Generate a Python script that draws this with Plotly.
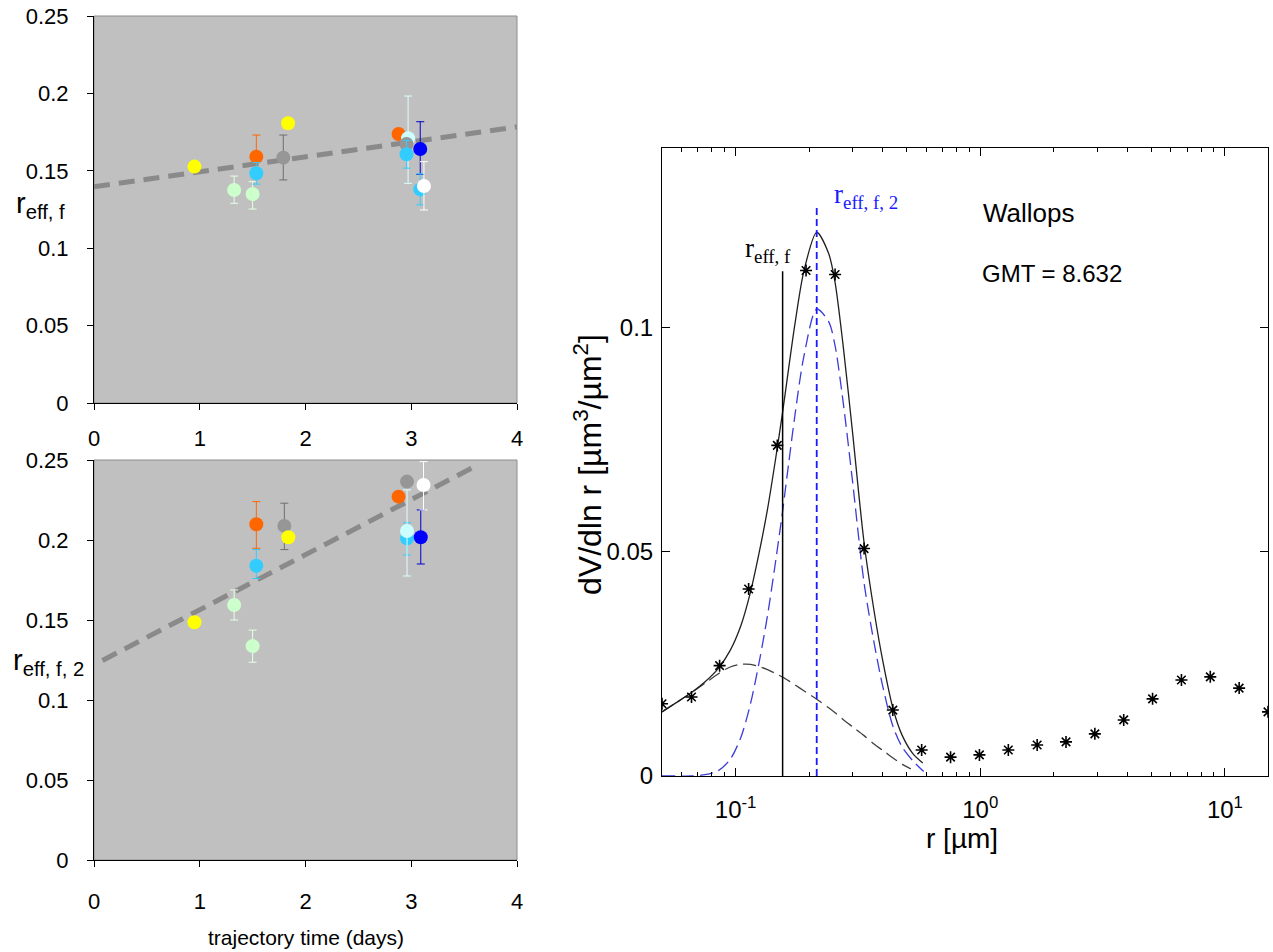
import plotly.graph_objects as go

W, H = 1273, 952

# ---------------- left panels: effective radius vs trajectory time ----------------
colors_top = ["#ffff00", "#ccffcc", "#ccffcc", "#ff6600", "#33ccff", "#969696", "#ffff00",
              "#ff6600", "#ccffff", "#969696", "#33ccff", "#0000ff", "#33ccff", "#ffffff"]
time_top = [0.95, 1.325, 1.50, 1.535, 1.535, 1.79, 1.835, 2.88, 2.97, 2.955, 2.955, 3.085, 3.085, 3.12]
reff_top = [0.1527, 0.1376, 0.1350, 0.1591, 0.1484, 0.1585, 0.1807, 0.1738, 0.1710, 0.1673,
            0.1607, 0.1641, 0.1380, 0.1402]
errp_top = [0, 0.0090, 0.0080, 0.0140, 0.0070, 0.0146, 0, 0, 0.0273, 0, 0.0090, 0.0176, 0.0100, 0.0157]
errm_top = [0, 0.0086, 0.0097, 0.0140, 0.0070, 0.0144, 0, 0, 0.0291, 0, 0.0090, 0.0164, 0.0100, 0.0155]
trend_top_t = [0.0, 4.0]
trend_top_r = [0.1397, 0.1784]

colors_bot = ["#ffff00", "#ccffcc", "#ccffcc", "#ff6600", "#33ccff", "#969696", "#ffff00",
              "#ff6600", "#969696", "#33ccff", "#ccffff", "#0000ff", "#ffffff"]
time_bot = [0.95, 1.325, 1.50, 1.535, 1.535, 1.80, 1.838, 2.88, 2.96, 2.96, 2.96, 3.09, 3.116]
reff_bot = [0.1486, 0.1594, 0.1337, 0.2098, 0.1839, 0.2088, 0.2017, 0.2271, 0.2365, 0.2010,
            0.2056, 0.2017, 0.2344]
errp_bot = [0, 0.0094, 0.0100, 0.0142, 0.0101, 0.0142, 0, 0, 0, 0.0098, 0.0257, 0.0171, 0.0146]
errm_bot = [0, 0.0094, 0.0101, 0.0150, 0.0080, 0.0148, 0, 0, 0, 0.0104, 0.0281, 0.0167, 0.0156]
trend_bot_t = [0.08, 3.60]
trend_bot_r = [0.1247, 0.2459]

err_colors = {"#ffff00": "#ffff00", "#ccffcc": "#e6ffe6", "#ff6600": "#ff6600", "#33ccff": "#33ccff",
              "#969696": "#6e6e6e", "#ccffff": "#ddffff", "#0000ff": "#0000cc", "#ffffff": "#ffffff"}

# ---------------- right panel: volume size distribution ----------------
r_bins = [0.050, 0.066, 0.086, 0.113, 0.148, 0.194, 0.255, 0.335, 0.439, 0.576, 0.756,
          0.992, 1.302, 1.708, 2.241, 2.940, 3.857, 5.061, 6.641, 8.713, 11.432, 15.000]
dv_obs = [0.0161, 0.0176, 0.0246, 0.0417, 0.0737, 0.1127, 0.1118, 0.0507, 0.0147, 0.0058, 0.0042,
          0.0047, 0.0058, 0.0069, 0.0076, 0.0094, 0.0125, 0.0172, 0.0214, 0.0221, 0.0196, 0.0143]

r_total = [0.050, 0.057, 0.066, 0.075, 0.085, 0.095, 0.105, 0.115, 0.125, 0.135, 0.145, 0.155,
           0.165, 0.175, 0.190, 0.2145, 0.240, 0.255, 0.275, 0.300, 0.335, 0.370, 0.400, 0.440,
           0.480, 0.530, 0.582]
dv_total = [0.0143, 0.0163, 0.0186, 0.0210, 0.0240, 0.0280, 0.0335, 0.0410, 0.0500, 0.0595, 0.0700,
            0.0805, 0.0912, 0.1010, 0.1125, 0.1212, 0.1165, 0.1100, 0.0960, 0.0770, 0.0520, 0.0360,
            0.0255, 0.0150, 0.0090, 0.0050, 0.0029]

r_mode1 = [0.050, 0.057, 0.066, 0.075, 0.085, 0.095, 0.105, 0.115, 0.125, 0.135, 0.145, 0.155,
           0.165, 0.175, 0.190, 0.2145, 0.240, 0.255, 0.275, 0.300, 0.335, 0.370, 0.400, 0.440,
           0.480, 0.520]
dv_mode1 = [0.0143, 0.0163, 0.0186, 0.0207, 0.0228, 0.0243, 0.0249, 0.0249, 0.0244, 0.0237, 0.0229,
            0.0221, 0.0212, 0.0203, 0.0190, 0.0171, 0.0152, 0.0141, 0.0126, 0.0110, 0.0090, 0.0070,
            0.0057, 0.0040, 0.0026, 0.0016]

r_mode2 = [0.050, 0.057, 0.066, 0.075, 0.085, 0.095, 0.105, 0.115, 0.125, 0.135, 0.145, 0.155,
           0.165, 0.175, 0.190, 0.2145, 0.240, 0.255, 0.275, 0.300, 0.335, 0.370, 0.400, 0.440,
           0.480, 0.530, 0.587]
dv_mode2 = [0.0, 0.0, 0.0, 0.0003, 0.0012, 0.0037, 0.0086, 0.0161, 0.0256, 0.0358, 0.0471, 0.0584,
            0.0700, 0.0807, 0.0935, 0.1041, 0.1013, 0.0959, 0.0834, 0.0660, 0.0430, 0.0290, 0.0198,
            0.0110, 0.0064, 0.0034, 0.0010]

r_eff_f = 0.1556
r_eff_f_top = 0.1125
r_eff_f2 = 0.2145
r_eff_f2_top = 0.1275

minor_ticks = [0.06, 0.07, 0.08, 0.09, 0.2, 0.3, 0.4, 0.5, 0.6, 0.7, 0.8, 0.9,
               2, 3, 4, 5, 6, 7, 8, 9]

fig = go.Figure()

def add_points(times, vals, ep, em, cols, xa, ya):
    for t, v, p, m, c in zip(times, vals, ep, em, cols):
        fig.add_trace(go.Scatter(
            x=[t], y=[v], mode="markers", xaxis=xa, yaxis=ya, showlegend=False,
            marker=dict(color=c, size=14, line=dict(width=0)),
            error_y=dict(type="data", symmetric=False, array=[p], arrayminus=[m],
                         color=err_colors[c], thickness=1, width=4, visible=(p > 0))))

trend_dash = "16px,9px"
fig.add_trace(go.Scatter(x=trend_top_t, y=trend_top_r, mode="lines", xaxis="x", yaxis="y",
                         line=dict(color="#8a8a8a", width=5, dash=trend_dash), showlegend=False))
add_points(time_top, reff_top, errp_top, errm_top, colors_top, "x", "y")

fig.add_trace(go.Scatter(x=trend_bot_t, y=trend_bot_r, mode="lines", xaxis="x2", yaxis="y2",
                         line=dict(color="#8a8a8a", width=5, dash=trend_dash), showlegend=False))
add_points(time_bot, reff_bot, errp_bot, errm_bot, colors_bot, "x2", "y2")

# right panel traces
fig.add_trace(go.Scatter(x=r_mode2, y=dv_mode2, mode="lines", xaxis="x3", yaxis="y3",
                         line=dict(color="#3c3cd8", width=1.3, dash="13px,6px", shape="spline",
                                   smoothing=0.8),
                         showlegend=False))
fig.add_trace(go.Scatter(x=r_mode1, y=dv_mode1, mode="lines", xaxis="x3", yaxis="y3",
                         line=dict(color="#404040", width=1.3, dash="13px,6px", shape="spline",
                                   smoothing=0.8),
                         showlegend=False))
fig.add_trace(go.Scatter(x=r_total, y=dv_total, mode="lines", xaxis="x3", yaxis="y3",
                         line=dict(color="#202020", width=1.3, shape="spline", smoothing=0.8),
                         showlegend=False))
fig.add_trace(go.Scatter(x=[r_eff_f, r_eff_f], y=[0, r_eff_f_top], mode="lines", xaxis="x3", yaxis="y3",
                         line=dict(color="black", width=1.5), showlegend=False))
fig.add_trace(go.Scatter(x=[r_eff_f2, r_eff_f2], y=[0, r_eff_f2_top], mode="lines", xaxis="x3", yaxis="y3",
                         line=dict(color="#1a1aff", width=1.8, dash="7px,4px"), showlegend=False))
fig.add_trace(go.Scatter(x=r_bins, y=dv_obs, mode="markers", xaxis="x3", yaxis="y3",
                         marker=dict(symbol="asterisk-open", size=10, color="black",
                                     line=dict(color="black", width=1.6)), showlegend=False))
# invisible trace to anchor minor-tick overlay axis
fig.add_trace(go.Scatter(x=[0.1], y=[0], mode="markers", xaxis="x4", yaxis="y3",
                         marker=dict(opacity=0), showlegend=False, hoverinfo="skip"))

def px_x(a, b):
    return [a / W, b / W]

def px_y(a, b):
    return [1 - b / H, 1 - a / H]

left_font = dict(family="Liberation Sans, Arial", size=22, color="black")
right_font = dict(family="Liberation Sans, Arial", size=24, color="black")

lin_x = dict(range=[0, 4], tickvals=[0, 1, 2, 3, 4], ticktext=["0", "1", "2", "3", "4"],
             ticks="outside", ticklen=6, tickcolor="black", showline=True, linecolor="black",
             linewidth=1, showgrid=False, zeroline=False, tickfont=left_font, ticklabelstandoff=10,
             automargin=False)
lin_y = dict(range=[0, 0.25], tickvals=[0, 0.05, 0.1, 0.15, 0.2, 0.25],
             ticktext=["0", "0.05", "0.1", "0.15", "0.2", "0.25"],
             ticks="outside", ticklen=6, tickcolor="black", showline=True, linecolor="black",
             linewidth=1, showgrid=False, zeroline=False, tickfont=left_font, ticklabelstandoff=14,
             automargin=False)

fig.update_layout(
    width=W, height=H, margin=dict(l=0, r=0, t=0, b=0, pad=0, autoexpand=False),
    paper_bgcolor="white", plot_bgcolor="white",
    xaxis=dict(lin_x, domain=px_x(94, 517), anchor="y"),
    yaxis=dict(lin_y, domain=px_y(16, 403), anchor="x"),
    xaxis2=dict(lin_x, domain=px_x(94, 517), anchor="y2", ticklabelstandoff=16),
    yaxis2=dict(lin_y, domain=px_y(460, 860), anchor="x2"),
    xaxis3=dict(type="log", domain=px_x(662, 1268), anchor="y3",
                range=[-1.30103, 1.176091], tickvals=[0.1, 1, 10],
                ticktext=["10<sup>-1</sup>", "10<sup>0</sup>", "10<sup>1</sup>"],
                ticks="inside", ticklen=8, tickcolor="black", mirror="ticks",
                showline=True, linecolor="black", linewidth=1, showgrid=False, zeroline=False,
                tickfont=right_font, ticklabelstandoff=12, automargin=False),
    xaxis4=dict(type="log", domain=px_x(662, 1268), anchor="y3", overlaying="x3",
                range=[-1.30103, 1.176091], tickvals=minor_ticks, ticks="inside", ticklen=4,
                tickcolor="black", mirror="ticks", showline=True, linecolor="black",
                showticklabels=False, showgrid=False, zeroline=False, automargin=False),
    yaxis3=dict(domain=px_y(148, 776), anchor="x3", range=[0, 0.14],
                tickvals=[0, 0.05, 0.1], ticktext=["0", "0.05", "0.1"],
                ticks="inside", ticklen=8, tickcolor="black", mirror="ticks",
                showline=True, linecolor="black", linewidth=1, showgrid=False, zeroline=False,
                tickfont=right_font, ticklabelstandoff=3, automargin=False),
)

# grey plot areas of the left panels
for xr, yr in [("x domain", "y domain"), ("x2 domain", "y2 domain")]:
    fig.add_shape(type="rect", xref=xr, yref=yr, x0=0, x1=1, y0=0, y1=1,
                  fillcolor="#c0c0c0", line=dict(color="#8c8c8c", width=1), layer="below")

def ann(text, x, y, size, family="Liberation Sans, Arial", color="black", xanchor="center", angle=0):
    fig.add_annotation(text=text, x=x / W, y=1 - y / H, xref="paper", yref="paper",
                       showarrow=False, xanchor=xanchor, yanchor="middle", textangle=angle,
                       font=dict(family=family, size=size, color=color))

ann("r<sub>eff, f</sub>", 14, 205, 29, xanchor="left")
ann("r<sub>eff, f, 2</sub>", 11, 662, 29, xanchor="left")
ann("trajectory time (days)", 306, 937, 21)
ann("r [µm]", 962, 838, 28)
ann("dV/dln r [µm<sup>3</sup>/µm<sup>2</sup>]", 588, 465, 32, angle=-90)
ann("Wallops", 1029, 213, 26)
ann("GMT = 8.632", 1052, 273, 24)
ann("r<sub>eff, f</sub>", 768, 250, 27, family="Liberation Serif, Times New Roman")
ann("r<sub>eff, f, 2</sub>", 866, 196, 27, family="Liberation Serif, Times New Roman", color="#1a1aff")

fig.write_html("out.html", config={"displayModeBar": False},
               post_script="document.body.style.margin='0px';")
